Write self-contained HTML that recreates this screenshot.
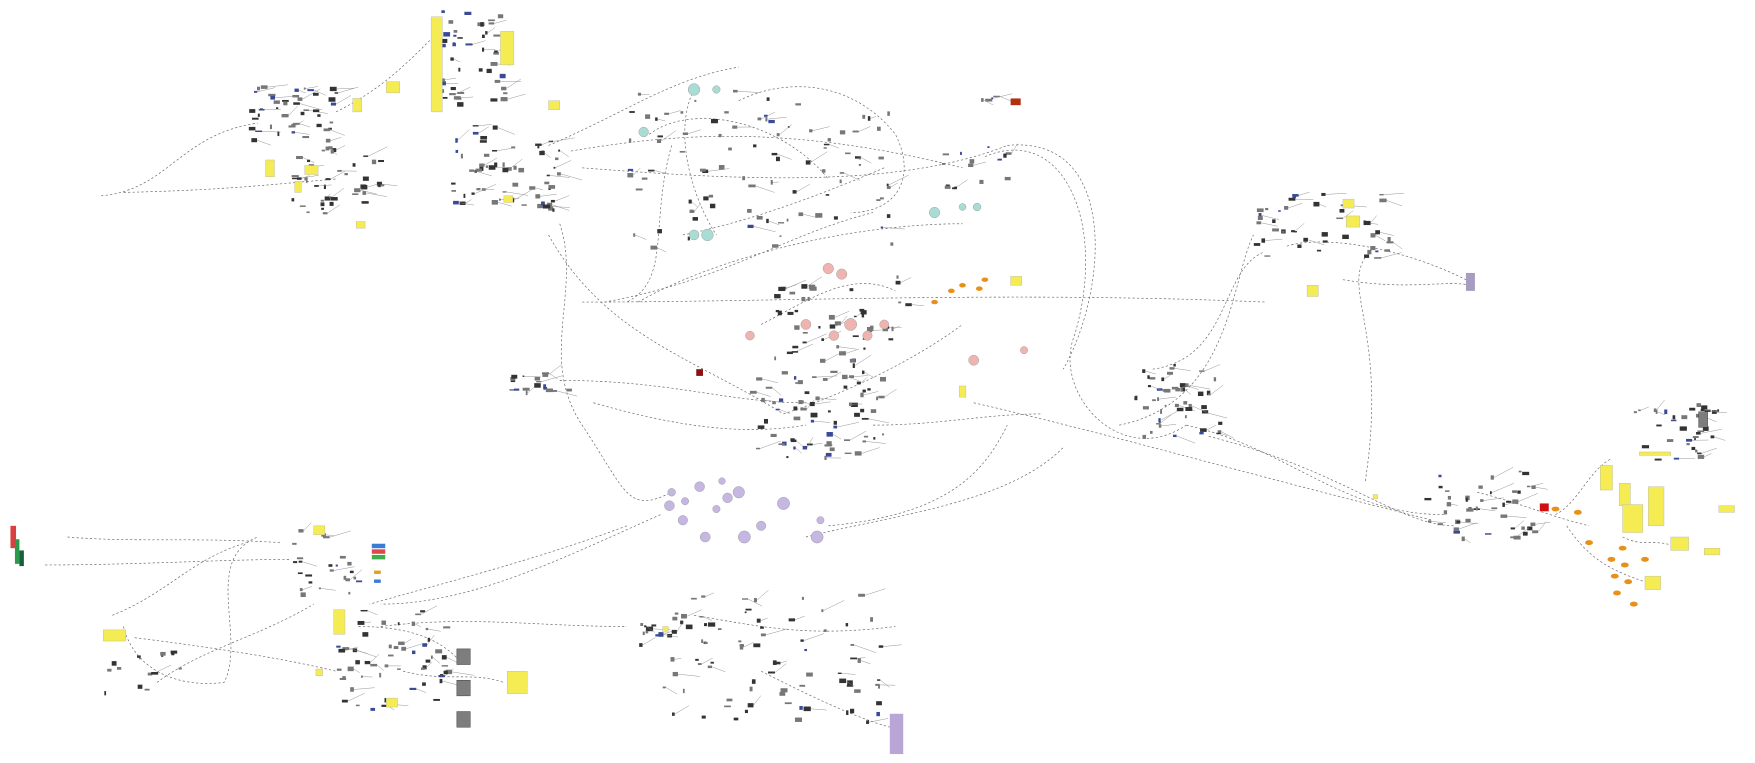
<!DOCTYPE html>
<html><head><meta charset="utf-8"><style>
html,body{margin:0;padding:0;background:#fff;width:1755px;height:763px;overflow:hidden}
svg{display:block}
</style></head><body>
<svg id="s" width="1755" height="763" viewBox="0 0 1568 682" xmlns="http://www.w3.org/2000/svg">
<g id="wires" fill="none" stroke="#666" stroke-width="0.6" stroke-dasharray="2,2">
<path d="M90 175 C150 170 160 120 230 110"/>
<path d="M110 172 C200 170 240 165 300 160"/>
<path d="M300 100 C340 80 360 60 390 30"/>
<path d="M490 130 C560 100 600 70 660 60"/>
<path d="M510 135 C600 120 700 110 860 150"/>
<path d="M520 150 C650 160 800 170 900 130"/>
<path d="M500 200 C520 260 480 320 520 380 C560 440 560 460 600 440"/>
<path d="M490 210 C540 300 620 320 700 370"/>
<path d="M540 270 C650 250 700 210 780 190"/>
<path d="M520 270 C700 270 900 260 1130 270"/>
<path d="M570 270 C640 230 760 200 860 200"/>
<path d="M600 130 C580 200 600 250 560 270"/>
<path d="M880 140 C950 110 990 200 960 300 C940 350 1000 420 1060 380"/>
<path d="M900 130 C1000 120 990 260 950 330"/>
<path d="M1000 380 C1100 360 1100 250 1120 210"/>
<path d="M1030 330 C1100 320 1090 240 1130 225"/>
<path d="M1060 380 C1150 400 1200 460 1290 460"/>
<path d="M1080 390 C1200 420 1250 470 1300 470"/>
<path d="M870 360 C1000 390 1100 420 1280 465"/>
<path d="M740 470 C850 460 880 420 900 380"/>
<path d="M720 480 C800 460 900 450 950 400"/>
<path d="M560 470 C480 500 400 520 330 540"/>
<path d="M590 460 C500 500 420 540 340 540"/>
<path d="M100 550 C150 530 170 500 220 485"/>
<path d="M60 480 C120 485 170 480 250 485"/>
<path d="M40 505 C120 505 200 500 260 500"/>
<path d="M110 560 C120 600 160 615 200 610 C220 570 180 500 230 480"/>
<path d="M120 570 C200 580 260 590 300 600"/>
<path d="M140 610 C180 580 230 570 280 540"/>
<path d="M320 560 C380 560 400 580 410 590"/>
<path d="M360 600 C400 610 420 600 450 610"/>
<path d="M340 560 C420 550 480 560 560 560"/>
<path d="M1150 220 C1180 210 1250 220 1310 250"/>
<path d="M1200 250 C1260 260 1290 250 1315 255"/>
<path d="M1320 440 C1360 450 1380 460 1420 470"/>
<path d="M1390 460 C1410 450 1420 420 1440 410"/>
<path d="M1450 480 C1470 490 1480 480 1500 490"/>
<path d="M1400 470 C1420 500 1440 510 1470 520"/>
<path d="M680 600 C720 620 760 640 795 650"/>
<path d="M620 550 C680 560 720 570 800 560"/>
<path d="M660 90 C700 70 760 70 800 120 C820 160 800 190 760 190"/>
<path d="M580 120 C620 90 700 110 740 160"/>
<path d="M610 210 C660 200 720 180 790 150"/>
<path d="M620 80 C600 120 620 180 640 210"/>
<path d="M700 370 C760 350 820 320 860 290"/>
<path d="M680 290 C720 270 760 240 800 260"/>
<path d="M530 360 C600 380 660 390 720 380"/>
<path d="M500 340 C600 340 650 360 720 360"/>
<path d="M780 380 C840 380 880 370 930 370"/>
<path d="M1220 430 C1240 300 1200 260 1220 230"/>
</g>
<g id="blobs"></g>
<g id="fixed">
<g fill="#f5ec54" stroke="#bba" stroke-width="0.4">
<rect x="385" y="15" width="10" height="85"/><rect x="447" y="28" width="12" height="30"/>
<rect x="345" y="73" width="12" height="10"/><rect x="315" y="88" width="8" height="12"/>
<rect x="490" y="90" width="10" height="8"/><rect x="237" y="143" width="8" height="15"/>
<rect x="272" y="148" width="12" height="8"/><rect x="263" y="162" width="6" height="10"/>
<rect x="318" y="198" width="8" height="6"/><rect x="1200" y="178" width="10" height="8"/>
<rect x="1203" y="193" width="12" height="10"/><rect x="1168" y="255" width="10" height="10"/>
<rect x="903" y="247" width="10" height="8"/><rect x="857" y="345" width="6" height="10"/>
<rect x="92" y="563" width="20" height="10"/><rect x="280" y="470" width="10" height="8"/>
<rect x="298" y="545" width="10" height="22"/><rect x="282" y="598" width="6" height="6"/>
<rect x="345" y="624" width="10" height="8"/><rect x="453" y="600" width="18" height="20"/>
<rect x="1430" y="416" width="11" height="22"/><rect x="1447" y="432" width="10" height="20"/>
<rect x="1473" y="435" width="14" height="35"/><rect x="1450" y="451" width="18" height="25"/>
<rect x="1493" y="480" width="16" height="12"/><rect x="1523" y="490" width="14" height="6"/>
<rect x="1470" y="515" width="14" height="12"/><rect x="1465" y="404" width="28" height="3"/>
<rect x="1536" y="452" width="14" height="6"/><rect x="1227" y="442" width="4" height="4"/>
<rect x="592" y="560" width="5" height="5"/><rect x="450" y="175" width="8" height="6"/>
</g>
<g fill="#7d7d7d" stroke="#333" stroke-width="0.4">
<rect x="408" y="580" width="12" height="14"/><rect x="408" y="608" width="12" height="14"/><rect x="408" y="636" width="12" height="14"/>
<rect x="1518" y="368" width="8" height="14"/>
</g>
<rect x="795" y="638" width="12" height="36" fill="#b9a6d6"/>
<rect x="1310" y="244" width="8" height="16" fill="#a89cc0"/>
<rect x="9" y="470" width="5" height="20" fill="#d94040"/>
<rect x="13" y="482" width="4" height="22" fill="#2c9a4d"/>
<rect x="17" y="492" width="4" height="14" fill="#1b5e3b"/>
<g><rect x="332" y="486" width="12" height="4" fill="#3a7bd5"/><rect x="332" y="491" width="12" height="4" fill="#e04848"/><rect x="332" y="496" width="12" height="4" fill="#3fae4a"/><rect x="334" y="510" width="6" height="3" fill="#e0a020"/><rect x="334" y="518" width="6" height="3" fill="#3a7bd5"/></g>
<rect x="1376" y="450" width="8" height="7" fill="#d01010"/>
<rect x="903" y="88" width="9" height="6" fill="#b03010"/>
<rect x="622" y="330" width="6" height="6" fill="#8b1010"/>
</g>
</svg>
<script>
(function(){
var seed=12345;function r(){seed=(seed*16807)%2147483647;return (seed-1)/2147483646;}
var ns="http://www.w3.org/2000/svg",g=document.getElementById("blobs");
function el(t,a){var e=document.createElementNS(ns,t);for(var k in a)e.setAttribute(k,a[k]);g.appendChild(e);return e;}
var C=[[260,100,40,25,45],[420,50,30,45,45],[300,160,40,30,45],[450,150,50,40,60],[680,150,120,70,90],
[750,285,60,40,50],[730,370,60,40,70],[480,340,30,10,18],[1050,360,40,30,35],[1180,200,60,30,45],
[1320,450,50,30,45],[1500,385,40,25,35],[290,500,30,30,25],[350,590,50,45,55],[690,590,100,60,70],
[120,600,40,20,15],[870,150,30,20,15],[1040,345,20,20,15],[600,560,30,15,20],[880,88,8,3,4]];
C.forEach(function(c){for(var i=0;i<c[4];i++){var x=c[0]+(r()*2-1)*c[2],y=c[1]+(r()*2-1)*c[3];
var w=1.5+r()*5,h=1.2+r()*3;var q=r();var col=q<0.12?"#3a4a99":(q<0.5?"#333":"#777");
el("rect",{x:x,y:y,width:w,height:h,fill:col});
if(r()<0.4)el("line",{x1:x+w,y1:y+h/2,x2:x+w+5+r()*15,y2:y+(r()*2-1)*8,stroke:"#888","stroke-width":0.4});}});
var circ=[["#a8dcd4",[[575,118],[620,210],[632,210],[860,185],[873,185],[640,80],[620,80],[835,190]]],
["#f0b4b0",[[740,240],[752,245],[670,300],[760,290],[775,300],[870,322],[915,313],[790,290],[745,300],[720,290]]],
["#c6b6e2",[[600,440],[612,448],[625,435],[650,445],[660,440],[640,455],[610,465],[630,480],[665,480],[680,470],[730,480],[598,452],[645,430],[700,450],[733,465]]]];
circ.forEach(function(s){s[1].forEach(function(p){el("circle",{cx:p[0],cy:p[1],r:3+r()*2.5,fill:s[0],stroke:"#999","stroke-width":0.4});});});
var o=[[1450,490],[1440,500],[1452,505],[1443,515],[1455,520],[1445,530],[1460,540],[1420,485],[1410,458],[1390,455],[1470,500]];
o.forEach(function(p){el("ellipse",{cx:p[0],cy:p[1],rx:3.5,ry:2.2,fill:"#e8901a"});});
[[850,260],[860,255],[875,258],[880,250],[835,270]].forEach(function(p){el("ellipse",{cx:p[0],cy:p[1],rx:3,ry:2,fill:"#e8901a"});});
})();
</script>
</body></html>
